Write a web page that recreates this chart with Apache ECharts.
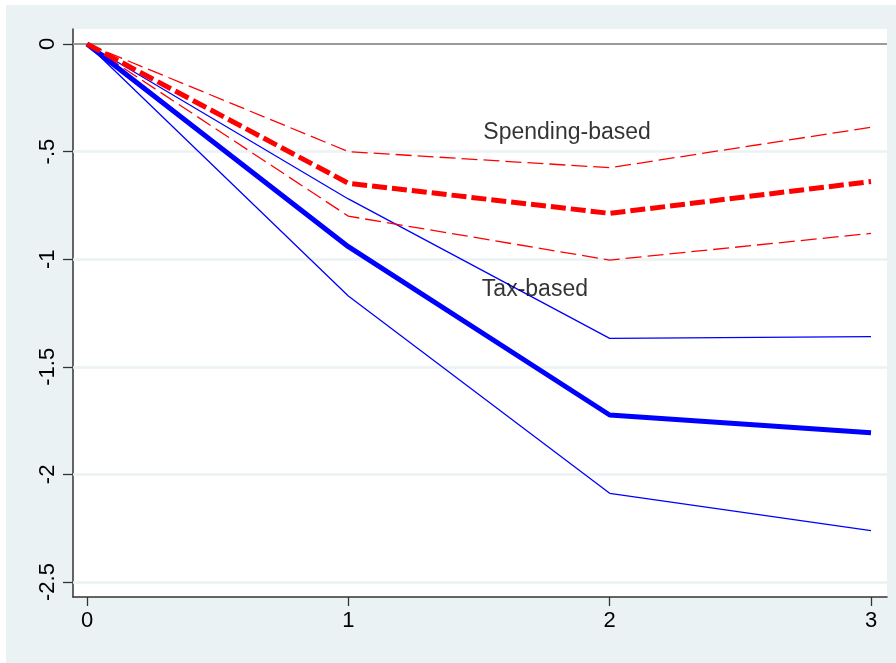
<!DOCTYPE html>
<html>
<head>
<meta charset="utf-8">
<script src="https://cdn.jsdelivr.net/npm/echarts@6/dist/echarts.min.js"></script>
<style>
  html, body { margin: 0; padding: 0; background: #ffffff; }
  #frame { position: absolute; left: 6px; top: 5px; width: 890px; height: 658px; }
</style>
</head>
<body>
<div id="frame"></div>
<script>
// horizon (years) and tick labels
var horizon = [0, 1, 2, 3];
var xTickValues = [0, 1, 2, 3];
var xTickLabels = ['0', '1', '2', '3'];
var yTickValues = [0, -0.5, -1, -1.5, -2, -2.5];
var yTickLabels = ['0', '-.5', '-1', '-1.5', '-2', '-2.5'];

// tax-based: point estimate and bands
var taxMean = [0, -0.942, -1.724, -1.806];
var taxUpper = [0, -0.72, -1.368, -1.36];
var taxLower = [0, -1.171, -2.088, -2.261];

// spending-based: point estimate and bands
var spendMean = [0, -0.647, -0.787, -0.639];
var spendUpper = [0, -0.50, -0.575, -0.387];
var spendLower = [0, -0.80, -1.004, -0.88];

// annotation labels (placed in data coordinates)
var noteNames = ['Spending-based', 'Tax-based'];
var noteX = [1.837, 1.714];
var noteY = [-0.41, -1.14];

var gridValues = [-0.5, -1, -1.5, -2, -2.5];

function pairs(ys) {
  var out = [];
  for (var i = 0; i < horizon.length; ++i) {
    out.push([horizon[i], ys[i]]);
  }
  return out;
}

function labelFor(values, labels) {
  return function (v) {
    for (var i = 0; i < values.length; ++i) {
      if (Math.abs(values[i] - v) < 1e-9) return labels[i];
    }
    return '';
  };
}

var chart = echarts.init(document.getElementById('frame'));

var notes = [];
for (var i = 0; i < noteNames.length; ++i) {
  notes.push({ name: noteNames[i], value: [noteX[i], noteY[i]] });
}

var gridLines = [];
for (var j = 0; j < gridValues.length; ++j) {
  gridLines.push({ yAxis: gridValues[j] });
}

function lineSeries(name, ys, color, width, dash) {
  return {
    name: name,
    type: 'line',
    z: 4,
    data: pairs(ys),
    symbol: 'none',
    silent: true,
    animation: false,
    lineStyle: { color: color, width: width, type: dash || 'solid', cap: 'butt', join: 'round' }
  };
}

var option = {
  backgroundColor: '#EAF2F3',
  animation: false,
  grid: {
    left: 67, right: 9, top: 24, bottom: 66,
    show: true, backgroundColor: '#ffffff', borderWidth: 0
  },
  xAxis: {
    type: 'value',
    min: -0.0536,
    max: 3.0612,
    axisLine: { show: true, onZero: false, lineStyle: { color: '#333333', width: 1.5 } },
    axisTick: { show: true, length: 9, customValues: xTickValues, lineStyle: { color: '#333333', width: 1.3 } },
    axisLabel: {
      customValues: xTickValues,
      formatter: labelFor(xTickValues, xTickLabels),
      color: '#000000', fontSize: 22, fontFamily: 'Liberation Sans, Arial, sans-serif', margin: 13
    },
    splitLine: { show: false }
  },
  yAxis: {
    type: 'value',
    min: -2.5697,
    max: 0.0697,
    axisLine: { show: true, onZero: false, lineStyle: { color: '#333333', width: 1.5 } },
    axisTick: { show: true, length: 10, customValues: yTickValues, lineStyle: { color: '#333333', width: 1.3 } },
    axisLabel: {
      customValues: yTickValues,
      formatter: labelFor(yTickValues, yTickLabels),
      rotate: 90,
      color: '#000000', fontSize: 22, fontFamily: 'Liberation Sans, Arial, sans-serif', margin: 14
    },
    splitLine: { show: false }
  },
  series: [
    {
      name: 'grid',
      type: 'line',
      z: 1,
      data: [],
      silent: true,
      markLine: {
        z: 1,
        silent: true,
        symbol: 'none',
        label: { show: false },
        lineStyle: { color: '#EAF2F3', width: 2.5, type: 'solid' },
        data: gridLines.concat([{ yAxis: 0, lineStyle: { color: '#9a9a9a', width: 1.8 } }])
      }
    },
    lineSeries('Tax-based upper', taxUpper, '#0000FF', 1.3),
    lineSeries('Tax-based lower', taxLower, '#0000FF', 1.3),
    lineSeries('Spending-based upper', spendUpper, '#FF0000', 1.3, [16, 6]),
    lineSeries('Spending-based lower', spendLower, '#FF0000', 1.3, [16, 6]),
    lineSeries('Tax-based', taxMean, '#0000FF', 5),
    lineSeries('Spending-based', spendMean, '#FF0000', 5, [15, 5]),
    {
      name: 'notes',
      type: 'scatter',
      z: 5,
      data: notes,
      symbolSize: 0,
      silent: true,
      itemStyle: { color: 'transparent' },
      label: {
        show: true,
        position: 'inside',
        formatter: '{b}',
        color: '#000000',
        textBorderWidth: 0,
        textBorderColor: 'transparent',
        fontSize: 23,
        fontFamily: 'Liberation Sans, Arial, sans-serif'
      }
    }
  ]
};

chart.setOption(option);
</script>
</body>
</html>
